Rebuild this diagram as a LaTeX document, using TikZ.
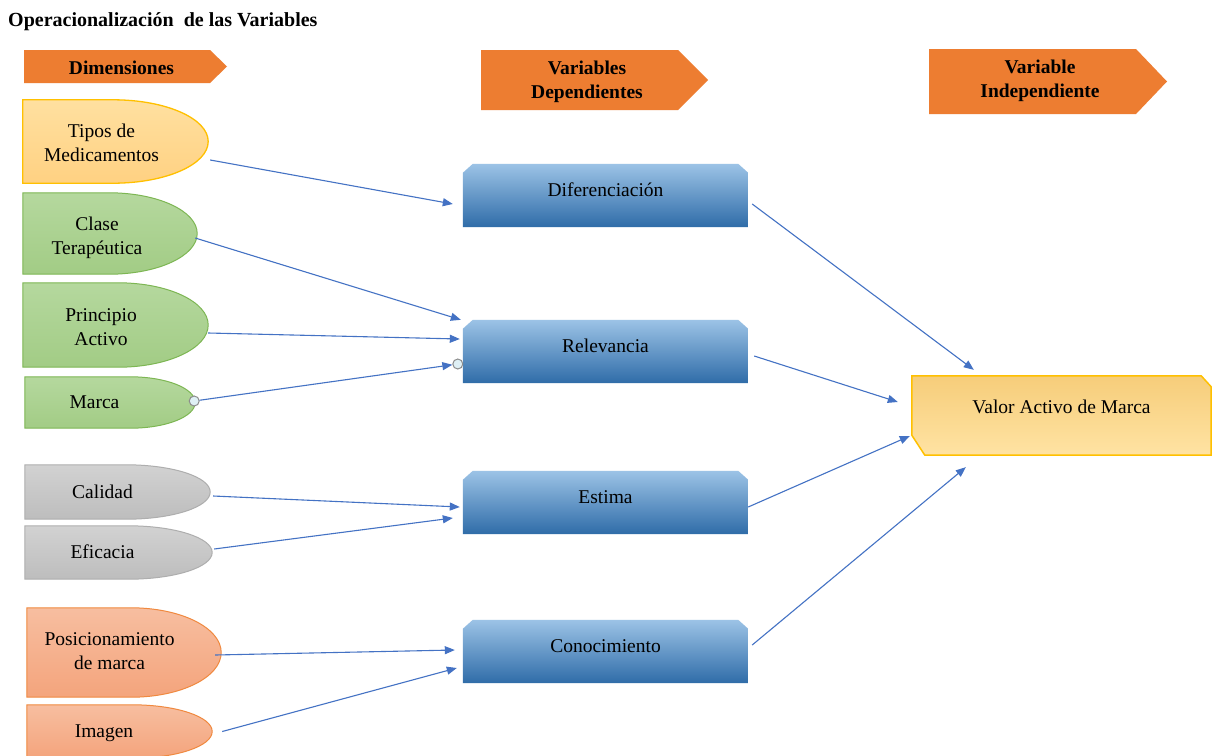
\documentclass[tikz,border=0pt]{standalone}
\usepackage{fontspec}
\setmainfont{Liberation Serif}
\usetikzlibrary{arrows.meta,calc,backgrounds}

\definecolor{hdrorange}{HTML}{ED7D31}
\definecolor{linkblue}{HTML}{4472C4}
\definecolor{yellowtop}{HTML}{FFE0A0}
\definecolor{yellowbot}{HTML}{FFD182}
\definecolor{yellowline}{HTML}{FFC000}
\definecolor{greentop}{HTML}{B5D89E}
\definecolor{greenbot}{HTML}{A2CC85}
\definecolor{greenline}{HTML}{7DB653}
\definecolor{graytop}{HTML}{D2D2D2}
\definecolor{graybot}{HTML}{BDBDBD}
\definecolor{grayline}{HTML}{AEAEAE}
\definecolor{salmontop}{HTML}{F7BEA0}
\definecolor{salmonbot}{HTML}{F4A47C}
\definecolor{salmonline}{HTML}{F0893F}
\definecolor{bluetop}{HTML}{9CC3E6}
\definecolor{bluemid}{HTML}{5E9CD6}
\definecolor{bluebot}{HTML}{2F6CA8}
\definecolor{valtop}{HTML}{F6CD7A}
\definecolor{valmid}{HTML}{FFD98C}
\definecolor{valbot}{HTML}{FFE3A3}
\definecolor{dotfill}{HTML}{DFF0F5}
\definecolor{dotline}{HTML}{8C8C8C}

% half-pill outline: square left side, elliptical right end of horizontal radius #2
\newcommand\pillpath[2]{(#1.north west) -- ([xshift={-#2}]#1.north east)
  .. controls ([xshift={-0.4477*#2}]#1.north east) and ($(#1.east)!0.5523!(#1.north east)$) .. (#1.east)
  .. controls ($(#1.east)!0.5523!(#1.south east)$) and ([xshift={-0.4477*#2}]#1.south east) .. ([xshift={-#2}]#1.south east)
  -- (#1.south west) -- cycle}
% rectangle with both top corners cut
\newcommand\topcutpath[1]{([yshift=-9pt]#1.north west) -- ([xshift=10pt]#1.north west)
  -- ([xshift=-10pt]#1.north east) -- ([yshift=-9pt]#1.north east)
  -- (#1.south east) -- (#1.south west) -- cycle}
% rectangle with top right and bottom left corners cut
\newcommand\diagcutpath[1]{(#1.north west) -- ([xshift=-10pt]#1.north east)
  -- ([yshift=-11pt]#1.north east) -- (#1.south east)
  -- ([xshift=13pt]#1.south west) -- ([yshift=20pt]#1.south west) -- cycle}

\tikzset{
  every node/.style={font=\fontsize{19.5}{24}\selectfont, text=black},
  titletext/.style={font=\fontsize{20}{24}\selectfont\bfseries, inner sep=0pt},
  hdrtext/.style={font=\fontsize{19.5}{24}\selectfont\bfseries, align=center, inner sep=0pt},
  hdr/.style={fill=hdrorange},
  dimbox/.style={inner sep=0pt},
  lbl/.style={align=center, inner sep=0pt},
  yellowpill/.style={top color=yellowtop, bottom color=yellowbot, draw=yellowline, line width=1.3pt},
  greenpill/.style={top color=greentop, bottom color=greenbot, draw=greenline, line width=1pt},
  graypill/.style={top color=graytop, bottom color=graybot, draw=grayline, line width=1pt},
  salmonpill/.style={top color=salmontop, bottom color=salmonbot, draw=salmonline, line width=1pt},
  varbox/.style={minimum width=285pt, minimum height=63pt, inner sep=0pt, text height=14pt, text depth=13pt},
  varfill/.style={top color=bluetop, middle color=bluemid, bottom color=bluebot},
  valbox/.style={minimum width=299pt, minimum height=79pt, inner sep=0pt, text height=14pt, text depth=19pt},
  valfill/.style={top color=valtop, middle color=valmid, bottom color=valbot, draw=yellowline, line width=1.5pt},
  dot/.style={circle, minimum size=10pt, inner sep=0pt, fill=dotfill, draw=dotline, line width=1pt},
  conn/.style={draw=linkblue, line width=1.1pt, -{Triangle[length=10pt,width=8pt]}},
}

\begin{document}
\begin{tikzpicture}[x=1pt,y=-1pt]
\useasboundingbox (0,0) rectangle (1212,755);

% title
\node[titletext, anchor=base west] (title) at (8,26.5) {Operacionalización\hspace{0.5em}de las Variables};

% column headers
\node[hdrtext, anchor=base] (hdim) at (121.5,74) {Dimensiones};
\node[hdrtext] (hdep) at (587,81.4) {Variables\\Dependientes};
\node[hdrtext] (hind) at (1040,80.9) {Variable\\Independiente};

% dimension shapes
\node[dimbox, minimum width=185pt, minimum height=83pt] (tipos) at (115.5,141.5) {};
\node[dimbox, minimum width=174pt, minimum height=81pt] (clase) at (110,233.5) {};
\node[dimbox, minimum width=185pt, minimum height=84pt] (princ) at (115.5,325) {};
\node[dimbox, minimum width=170pt, minimum height=51pt] (marca) at (110,402.5) {};
\node[dimbox, minimum width=185pt, minimum height=54pt] (calid) at (117.5,492) {};
\node[dimbox, minimum width=187pt, minimum height=53pt] (efic) at (118.5,552.5) {};
\node[dimbox, minimum width=194pt, minimum height=89pt] (posic) at (124,652.5) {};
\node[dimbox, minimum width=185pt, minimum height=53pt] (imag) at (119.5,731.5) {};

% dimension labels
\node[lbl] (tiposlbl) at (101.5,142.5) {Tipos de\\Medicamentos};
\node[lbl] (claselbl) at (97,237.4) {Clase\\Terapéutica};
\node[lbl] (princlbl) at (101,327) {Principio\\Activo};
\node[lbl, anchor=base] (marcalbl) at (94.5,408) {Marca};
\node[lbl, anchor=base] (calidlbl) at (102.5,498.3) {Calidad};
\node[lbl, anchor=base] (eficlbl) at (102.5,558) {Eficacia};
\node[lbl] (posiclbl) at (109.5,651) {Posicionamiento\\de marca};
\node[lbl, anchor=base] (imaglbl) at (104,737.3) {Imagen};

% dependent variables
\node[varbox] (dif) at (605.5,195.5) {Diferenciación};
\node[varbox] (rel) at (605.5,351.5) {Relevancia};
\node[varbox] (est) at (605.5,502.5) {Estima};
\node[varbox] (con) at (605.5,651.5) {Conocimiento};

% independent variable
\node[valbox] (valor) at (1061.5,415.5) {Valor Activo de Marca};

% connector end markers
\node[dot] (mdot) at ([xshift=-1pt,yshift=1.5pt]marca.east) {};
\node[dot] (rdot) at ([xshift=-5pt,yshift=-12.5pt]rel.west) {};

% shapes behind the texts
\begin{pgfonlayer}{background}
  \fill[white] (0,0) rectangle (1212,755);
  \path[hdr] (24,50) -- (210,50) -- (227,66.5) -- (210,83) -- (24,83) -- cycle;
  \path[hdr] (481,50) -- (678,50) -- (708,80) -- (678,110) -- (481,110) -- cycle;
  \path[hdr] (929,49) -- (1136,49) -- (1167,81.5) -- (1136,114) -- (929,114) -- cycle;
  \path[yellowpill] \pillpath{tipos}{95};
  \path[greenpill] \pillpath{clase}{88};
  \path[greenpill] \pillpath{princ}{90};
  \path[greenpill] \pillpath{marca}{65};
  \path[graypill] \pillpath{calid}{84};
  \path[graypill] \pillpath{efic}{84};
  \path[salmonpill] \pillpath{posic}{90};
  \path[salmonpill] \pillpath{imag}{80};
  \path[varfill] \topcutpath{dif};
  \path[varfill] \topcutpath{rel};
  \path[varfill] \topcutpath{est};
  \path[varfill] \topcutpath{con};
  \path[valfill] \diagcutpath{valor};
\end{pgfonlayer}

% dimensions to dependent variables
\draw[conn] ([xshift=2pt,yshift=-18.5pt]tipos.east) -- ([xshift=-10pt,yshift=-8.5pt]dif.west);
\draw[conn] ([xshift=-2pt,yshift=-4.5pt]clase.east) -- ([xshift=-2pt]rel.north west);
\draw[conn] ([yshift=-8pt]princ.east) -- ([xshift=-3pt,yshift=12.5pt]rel.west);
\draw[conn] (mdot) -- (rdot);
\draw[conn] ([xshift=3pt,yshift=-4pt]calid.east) -- ([xshift=-3pt,yshift=-4.5pt]est.west);
\draw[conn] ([xshift=2pt,yshift=3.5pt]efic.east) -- ([xshift=-10pt,yshift=-15.5pt]est.west);
\draw[conn] ([xshift=-6pt,yshift=-2.5pt]posic.east) -- ([xshift=-8pt,yshift=1.5pt]con.west);
\draw[conn] ([xshift=10pt]imag.east) -- ([xshift=-6pt,yshift=-16.5pt]con.west);

% dependent variables to the independent variable
\draw[conn] ([xshift=4pt,yshift=-8.5pt]dif.east) -- ([xshift=62pt,yshift=6pt]valor.north west);
\draw[conn] ([xshift=6pt,yshift=-4.5pt]rel.east) -- ([xshift=-14pt,yshift=13.5pt]valor.west);
\draw[conn] ([yshift=-4.5pt]est.east) -- ([xshift=-2pt,yshift=-20.5pt]valor.west);
\draw[conn] ([xshift=4pt,yshift=6.5pt]con.east) -- ([xshift=54pt,yshift=-12pt]valor.south west);
\end{tikzpicture}
\end{document}
